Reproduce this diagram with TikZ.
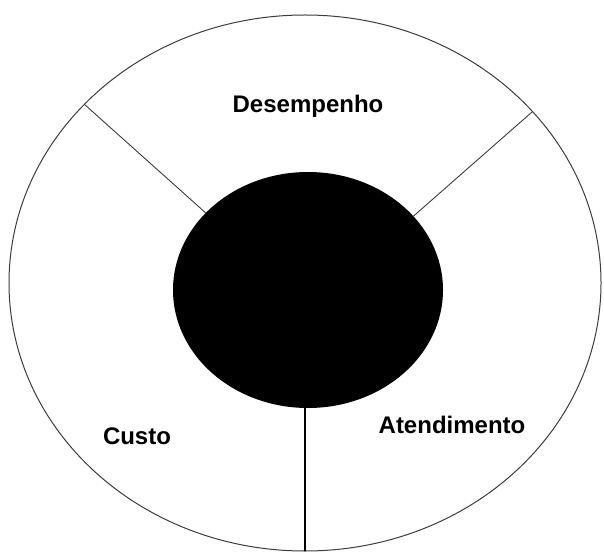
\documentclass[tikz,border=0pt]{standalone}
\usepackage{fontspec}
\setmainfont{Liberation Sans}
\usetikzlibrary{shapes.geometric}
\definecolor{scangray}{RGB}{60, 60, 60}

\tikzset{
  ring/.style={ellipse, draw=scangray, line width=1pt, inner sep=0pt, outer sep=0pt},
  divider/.style={scangray, line width=0.9pt},
  lbl/.style={font=\fontsize{24}{27}\selectfont\bfseries}
}

\begin{document}
\begin{tikzpicture}[x=1pt, y=1pt]
  \useasboundingbox (0,0) rectangle (604,555);
  % outer ring and dark core
  \node[ring, minimum width=592, minimum height=536] (outer) at (305,272) {};
  \node[ellipse, fill=black, inner sep=0pt, outer sep=0pt,
        minimum width=270, minimum height=236] (core) at (308,265) {};
  % sector borders
  \draw[divider] (core.143) -- (outer.141);
  \draw[divider] (core.35) -- (outer.37);
  \draw[line width=1.6pt] (outer.south) -- (outer.south |- core.south);
  % sector names
  \node[lbl] (desempenho) at (308,449) {Desempenho};
  \node[lbl] (custo) at (137,119) {Custo};
  \node[lbl] (atendimento) at (452,130) {Atendimento};
\end{tikzpicture}
\end{document}
